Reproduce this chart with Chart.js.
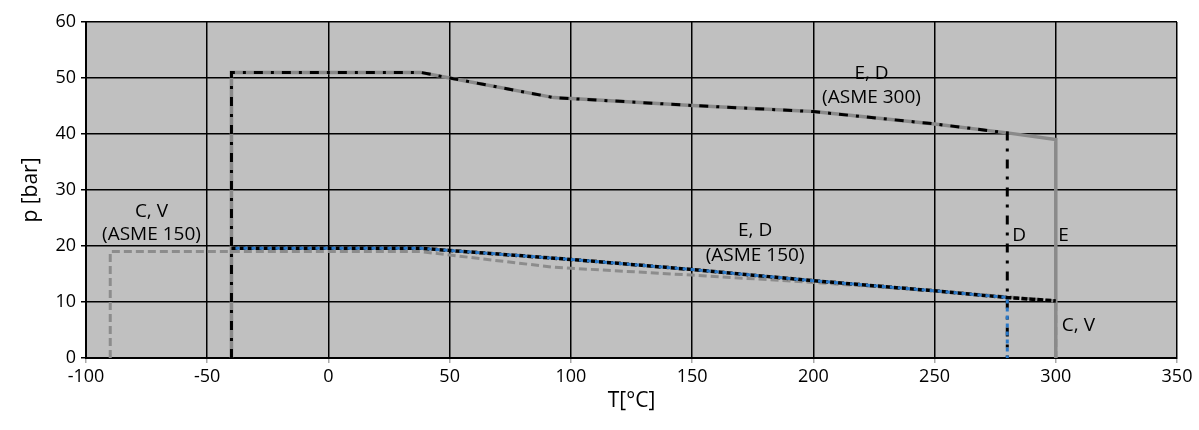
<!DOCTYPE html>
<html>
<head>
<meta charset="utf-8">
<script src="https://cdn.jsdelivr.net/npm/chart.js@4/dist/chart.umd.min.js"></script>
<style>
  html, body { margin: 0; padding: 0; background: #fff; }
  #wrap { width: 1199px; height: 430px; }
</style>
</head>
<body>
<div id="wrap"><canvas id="chart"></canvas></div>
<script>
// temperature [°C] / pressure [bar] pairs
const e300T = [-40, -40, 38, 50, 93, 150, 200, 250, 280, 300, 300];
const e300P = [0, 51, 51, 50, 46.5, 45.1, 44, 41.8, 40.2, 39, 0];
const d300T = [-40, -40, 38, 50, 93, 150, 200, 250, 280, 280];
const d300P = [0, 51, 51, 50, 46.5, 45.1, 44, 41.8, 40.2, 0];
const e150T = [-40, 38, 50, 100, 150, 200, 250, 280, 300];
const e150P = [19.6, 19.6, 19.2, 17.6, 15.8, 13.8, 12.0, 10.8, 10.2];
const d150T = [-40, 38, 50, 100, 150, 200, 250, 280, 280];
const d150P = [19.6, 19.6, 19.2, 17.6, 15.8, 13.8, 12.0, 10.8, 0];
const cv150T = [-90, -90, 38, 93, 150, 200, 250, 300, 300];
const cv150P = [0, 19, 19, 16.2, 14.8, 13.5, 12.0, 10.2, 0];

// text notes inside the plot, placed in data units
const notes = [
  { text: 'C, V', t: -73, p: 26.1, align: 'center' },
  { text: '(ASME 150)', t: -73, p: 22.0, align: 'center' },
  { text: 'E, D', t: 176, p: 22.8, align: 'center' },
  { text: '(ASME 150)', t: 176, p: 18.3, align: 'center' },
  { text: 'E, D', t: 224, p: 50.8, align: 'center' },
  { text: '(ASME 300)', t: 224, p: 46.5, align: 'center' },
  { text: 'D', t: 282, p: 21.8, align: 'left' },
  { text: 'E', t: 301, p: 21.8, align: 'left' },
  { text: 'C, V', t: 302.5, p: 5.7, align: 'left' }
];

const FONT = "'Open Sans', 'DejaVu Sans', sans-serif";

function pts(xs, ys) {
  return xs.map((x, i) => ({ x: x, y: ys[i] }));
}

// grey plot area
const plotBg = {
  id: 'plotBg',
  beforeDraw(chart) {
    const { ctx, chartArea: a } = chart;
    ctx.save();
    ctx.fillStyle = '#c0c0c0';
    ctx.fillRect(a.left, a.top, a.right - a.left, a.bottom - a.top);
    ctx.restore();
  }
};

const notesPlugin = {
  id: 'notes',
  afterDatasetsDraw(chart) {
    const { ctx, scales } = chart;
    ctx.save();
    ctx.font = '19px ' + FONT;
    ctx.fillStyle = '#000';
    ctx.textBaseline = 'middle';
    notes.forEach(n => {
      ctx.textAlign = n.align;
      ctx.fillText(n.text, scales.x.getPixelForValue(n.t), scales.y.getPixelForValue(n.p));
    });
    ctx.restore();
  }
};

new Chart(document.getElementById('chart'), {
  type: 'line',
  data: {
    datasets: [
      {
        label: 'D ASME 150',
        data: pts(d150T, d150P),
        borderColor: '#2a78c8',
        borderWidth: 3,
        borderDash: [4, 4],
        borderDashOffset: 4,
        order: 1
      },
      {
        label: 'E ASME 150',
        data: pts(e150T, e150P),
        borderColor: '#000',
        borderWidth: 3.5,
        borderDash: [6, 2],
        order: 2
      },
      {
        label: 'D ASME 300',
        data: pts(d300T, d300P),
        borderColor: '#000',
        borderWidth: 3,
        borderDash: [9, 8, 3, 8],
        order: 3
      },
      {
        label: 'E ASME 300',
        data: pts(e300T, e300P),
        borderColor: '#8a8a8a',
        borderWidth: 3.5,
        order: 4
      },
      {
        label: 'C, V ASME 150',
        data: pts(cv150T, cv150P),
        borderColor: '#8c8c8c',
        borderWidth: 3,
        borderDash: [8, 4],
        order: 5
      }
    ]
  },
  options: {
    responsive: true,
    maintainAspectRatio: false,
    animation: false,
    parsing: false,
    elements: {
      point: { radius: 0 },
      line: { tension: 0, fill: false, borderCapStyle: 'butt', borderJoinStyle: 'miter' }
    },
    layout: { padding: { top: 22, right: 22, left: 0, bottom: 0 } },
    plugins: {
      legend: { display: false },
      tooltip: { enabled: false }
    },
    scales: {
      x: {
        type: 'linear',
        min: -100,
        max: 350,
        afterFit: (scale) => { scale.height = 72; },
        ticks: { stepSize: 50, color: '#000', font: { family: FONT, size: 18 }, padding: 3, maxRotation: 0 },
        grid: { color: '#000', lineWidth: 1.5, tickColor: '#aaa', tickLength: 5 },
        border: { color: '#000', width: 2 },
        title: { display: true, text: 'T[°C]', color: '#000', font: { family: FONT, size: 21 }, padding: { top: 0, bottom: 16 } }
      },
      y: {
        type: 'linear',
        min: 0,
        max: 60,
        afterFit: (scale) => { scale.width = 86; },
        ticks: { stepSize: 10, color: '#000', font: { family: FONT, size: 18 }, padding: 5 },
        grid: { color: '#000', lineWidth: 1.5, tickColor: '#000', tickLength: 5 },
        border: { color: '#000', width: 2 },
        title: { display: true, text: 'p [bar]', color: '#000', font: { family: FONT, size: 21 }, padding: { top: 18, bottom: 0 } }
      }
    }
  },
  plugins: [plotBg, notesPlugin]
});
</script>
</body>
</html>
